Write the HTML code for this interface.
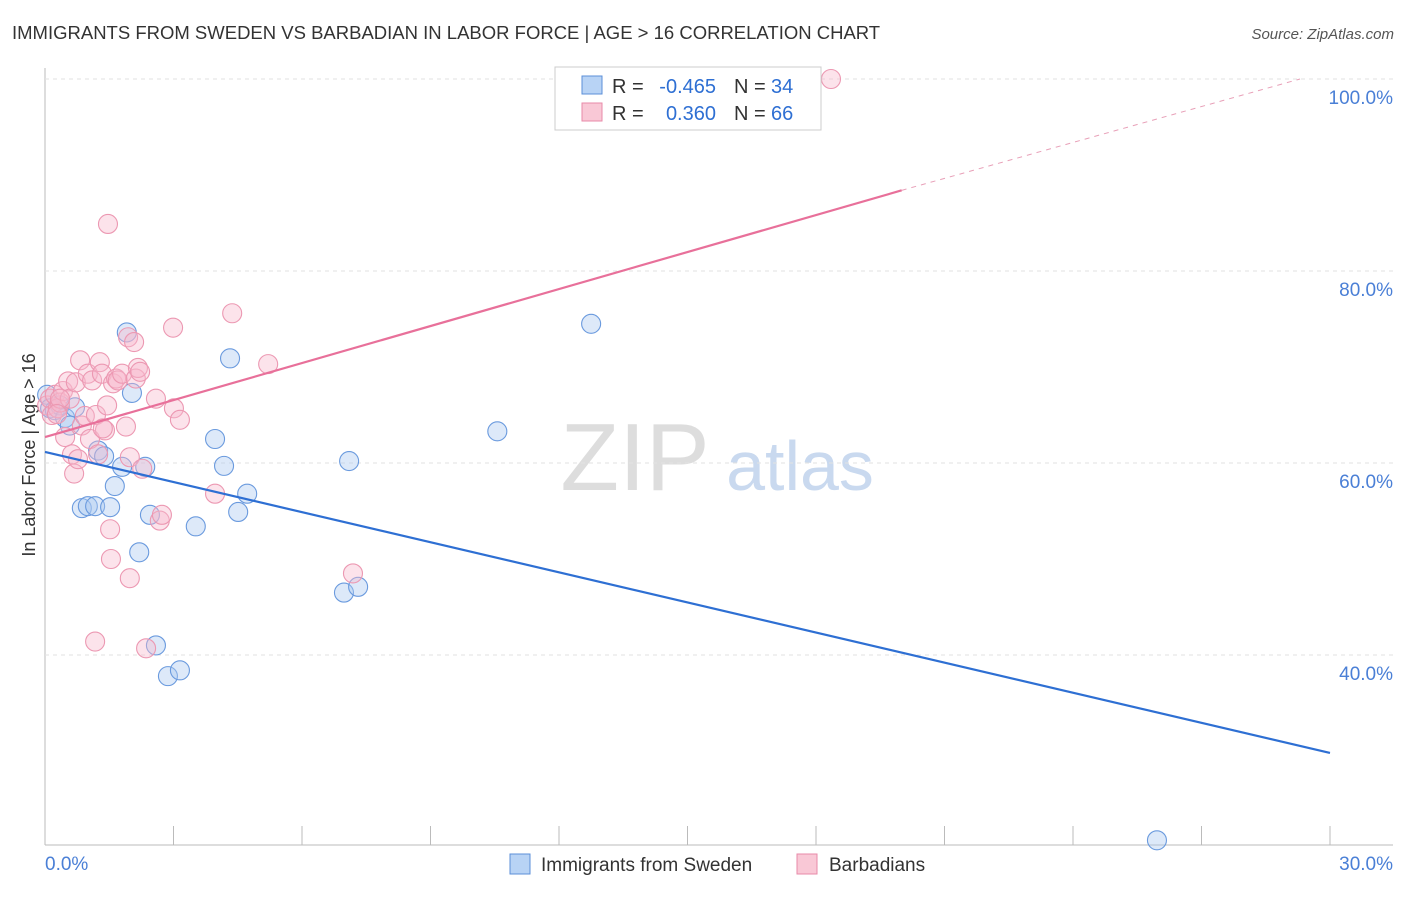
<!DOCTYPE html>
<html><head><meta charset="utf-8"><style>
body{margin:0;background:#fff;font-family:"Liberation Sans",sans-serif;}
svg text{font-family:"Liberation Sans",sans-serif;}
</style></head><body>
<svg id="c" width="1406" height="892">
<text x="12" y="39" font-size="18.5" fill="#333">IMMIGRANTS FROM SWEDEN VS BARBADIAN IN LABOR FORCE | AGE &gt; 16 CORRELATION CHART</text>
<text x="1394" y="39" font-size="15" fill="#555" font-style="italic" text-anchor="end">Source: ZipAtlas.com</text>
<text x="35" y="455" font-size="18" fill="#333" text-anchor="middle" transform="rotate(-90 35 455)">In Labor Force | Age &gt; 16</text>
<g><text x="635" y="490" font-size="96" fill="#ddd" font-family="Liberation Serif" text-anchor="middle">ZIP</text><text x="800" y="490" font-size="70" fill="#c9d9ef" text-anchor="middle">atlas</text></g>
<g id="grid"></g><g id="marks"></g>
<g>
<rect x="555" y="67" width="266" height="63" fill="#fff" stroke="#ccc"/>
<rect x="582" y="76" width="20" height="18" fill="#b8d3f5" stroke="#5b8fd8"/>
<rect x="582" y="103" width="20" height="18" fill="#f9c8d6" stroke="#e88aa8"/>
<text x="612" y="93" font-size="20" fill="#333">R =</text>
<text x="716" y="93" font-size="20" fill="#2e6fd3" text-anchor="end">-0.465</text>
<text x="734" y="93" font-size="20" fill="#333">N =</text>
<text x="771" y="93" font-size="20" fill="#2e6fd3">34</text>
<text x="612" y="120" font-size="20" fill="#333">R =</text>
<text x="716" y="120" font-size="20" fill="#2e6fd3" text-anchor="end">0.360</text>
<text x="734" y="120" font-size="20" fill="#333">N =</text>
<text x="771" y="120" font-size="20" fill="#2e6fd3">66</text>
</g>
<g>
<rect x="510" y="854" width="20" height="20" fill="#b8d3f5" stroke="#5b8fd8"/>
<text x="541" y="871" font-size="19" fill="#333">Immigrants from Sweden</text>
<rect x="797" y="854" width="20" height="20" fill="#f9c8d6" stroke="#e88aa8"/>
<text x="829" y="871" font-size="19" fill="#333">Barbadians</text>
</g>
</svg>
<script>
const xTicks=[0,3,6,9,12,15,18,21,24,27,30];
const yTicks=[40,60,80,100];
const swedenX=[0.05,0.12,0.23,0.35,0.47,0.58,0.7,0.86,1.0,1.17,1.24,1.38,1.52,1.63,1.8,1.91,2.03,2.2,2.34,2.45,2.59,2.87,3.15,3.52,3.97,4.18,4.32,4.51,4.72,6.98,7.1,7.31,10.56,12.75,25.96];
const swedenY=[67.1,65.7,65.5,66.0,64.7,63.9,65.8,55.3,55.5,55.5,61.3,60.7,55.4,57.6,59.6,73.6,67.3,50.7,59.6,54.6,41.0,37.8,38.4,53.4,62.5,59.7,70.9,54.9,56.8,46.5,60.2,47.1,63.3,74.5,20.7];
const barbX=[0.05,0.12,0.16,0.23,0.3,0.35,0.42,0.47,0.54,0.58,0.63,0.68,0.72,0.77,0.82,0.86,0.93,1.0,1.05,1.1,1.17,1.19,1.24,1.28,1.33,1.4,1.45,1.47,1.52,1.54,1.59,1.66,1.7,1.8,1.89,1.94,1.98,1.98,2.08,2.12,2.17,2.22,2.27,2.36,2.59,2.68,2.73,2.99,3.01,3.15,3.97,4.37,5.21,7.19,18.35,1.35,0.35,0.28];
const barbY=[66.0,66.7,65.0,67.1,65.7,66.3,67.5,62.7,68.5,66.7,60.9,58.9,68.4,60.4,70.7,63.9,64.9,69.3,62.5,68.6,41.4,65.0,60.9,70.5,69.3,63.4,66.0,84.9,53.1,50.0,68.3,68.8,68.6,69.3,63.8,73.1,60.6,48.0,72.6,68.8,69.9,69.5,59.4,40.7,66.7,54.0,54.6,74.1,65.7,64.5,56.8,75.6,70.3,48.5,100.0,63.6,66.7,65.1];
const X0=45,X1=1330,Y100=79,PX=9.6;
const sx=v=>X0+(X1-X0)*v/30, sy=v=>Y100+(100-v)*PX;
const NS='http://www.w3.org/2000/svg';
function mk(t,a,p){const e=document.createElementNS(NS,t);for(const k in a)e.setAttribute(k,a[k]);p.appendChild(e);return e;}
const g=document.getElementById('grid'),m=document.getElementById('marks');
mk('line',{x1:45,y1:68,x2:45,y2:845,stroke:'#bbb'},g);
mk('line',{x1:45,y1:845,x2:1393,y2:845,stroke:'#bbb'},g);
yTicks.forEach(v=>{
 const l=mk('line',{x1:45,y1:sy(v),x2:1393,y2:sy(v),stroke:'#e2e2e2','stroke-dasharray':'4,4'},g);
 
 
 const t=mk('text',{x:1393,y:sy(v)+25,'font-size':19,fill:'#4a7fd6','text-anchor':'end'},g);
 t.textContent=v.toFixed(1)+'%';
 
 
});
xTicks.forEach(v=>{
 const l=mk('line',{x1:sx(v),y1:826,x2:sx(v),y2:845,stroke:'#bbb'},g);
 
 
});
[[0,'start',45],[30,'end',1393]].forEach(([v,a,x])=>{
 const t=mk('text',{x:x,y:870,'font-size':19,fill:'#4a7fd6','text-anchor':a},g);
 t.textContent=v.toFixed(1)+'%';
 
 
});
swedenX.forEach((x,i)=>{
 const c=mk('circle',{cx:sx(x),cy:sy(swedenY[i]),r:9.5,fill:'rgba(170,200,240,0.4)',stroke:'#6a9ade','stroke-width':1.1},m);
 
 
});
barbX.forEach((x,i)=>{
 const c=mk('circle',{cx:sx(x),cy:sy(barbY[i]),r:9.5,fill:'rgba(248,185,205,0.4)',stroke:'#ec98b2','stroke-width':1.1},m);
 
 
});
const bl=mk('line',{x1:sx(0),y1:sy(61.15),x2:sx(30),y2:sy(29.8),stroke:'#2e6fd3','stroke-width':2.2},m);


const pl=mk('line',{x1:sx(0),y1:sy(62.7),x2:sx(20),y2:sy(88.4),stroke:'#e8709a','stroke-width':2.2},m);


const pd=mk('line',{x1:sx(20),y1:sy(88.4),x2:sx(29.3),y2:sy(100),stroke:'#e8a0b8','stroke-width':1,'stroke-dasharray':'5,5'},m);


</script>
</body></html>
